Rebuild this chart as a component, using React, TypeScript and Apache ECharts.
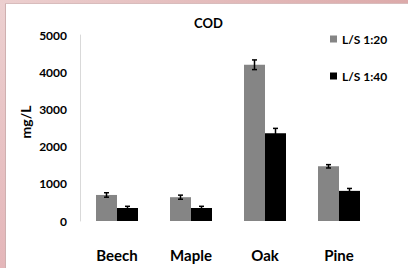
import React, { useEffect, useRef } from "react";
import * as echarts from "echarts";

const categories = ["Beech", "Maple", "Oak", "Pine"];
const seriesNames = ["L/S 1:20", "L/S 1:40"];
const values20 = [700, 640, 4200, 1470];
const err20 = [60, 55, 130, 45];
const values40 = [350, 350, 2360, 810];
const err40 = [45, 45, 130, 65];
const yTicks = { min: 0, max: 5000, interval: 1000 };

const FONT = "Lato";
const BAR_W = 21;

function errorSeries(vals: number[], errs: number[], offset: number) {
  return {
    type: "custom",
    z: 10,
    silent: true,
    data: vals.map((v, i) => [i, v - errs[i], v + errs[i]]),
    encode: { x: 0, y: [1, 2] },
    renderItem: (params: any, api: any) => {
      const cat = api.value(0);
      const lo = api.coord([cat, api.value(1)]);
      const hi = api.coord([cat, api.value(2)]);
      const x = lo[0] + offset;
      const style = { stroke: "#000", lineWidth: 1.5 };
      return {
        type: "group",
        children: [
          { type: "line", shape: { x1: x, y1: lo[1], x2: x, y2: hi[1] }, style },
          { type: "line", shape: { x1: x - 2.5, y1: lo[1], x2: x + 2.5, y2: lo[1] }, style },
          { type: "line", shape: { x1: x - 2.5, y1: hi[1], x2: x + 2.5, y2: hi[1] }, style },
        ],
      };
    },
  };
}

export default function App() {
  const ref = useRef<HTMLDivElement>(null);
  useEffect(() => {
    const chart = echarts.init(ref.current!, null, { renderer: "svg" });
    chart.setOption({
      animation: false,
      backgroundColor: "#fff",
      grid: { left: 80, right: 32, top: 35, bottom: 47 },
      legend: {
        orient: "vertical",
        left: 325,
        top: 28,
        itemGap: 25,
        itemWidth: 7,
        itemHeight: 7,
        icon: "rect",
        data: seriesNames,
        textStyle: { fontFamily: FONT, fontWeight: "bold", fontSize: 12, color: "#000" },
      },
      xAxis: {
        type: "category",
        data: categories,
        axisLine: { show: false },
        axisTick: { show: false },
        axisLabel: { fontFamily: FONT, fontWeight: "bold", fontSize: 15, color: "#000", margin: 26 },
      },
      yAxis: {
        type: "value",
        min: yTicks.min,
        max: yTicks.max,
        interval: yTicks.interval,
        axisLine: { show: true, lineStyle: { color: "#d9d9d9", width: 1 } },
        axisTick: { show: false },
        splitLine: { show: false },
        axisLabel: {
          fontFamily: FONT,
          fontWeight: "bold",
          fontSize: 12,
          color: "#000",
          margin: 13,
          formatter: (v: number) => String(v),
        },
      },
      series: [
        {
          name: seriesNames[0],
          type: "bar",
          data: values20,
          barWidth: BAR_W,
          barGap: "0%",
          itemStyle: { color: "#858585" },
        },
        {
          name: seriesNames[1],
          type: "bar",
          data: values40,
          barWidth: BAR_W,
          barGap: "0%",
          itemStyle: { color: "#000000" },
        },
        errorSeries(values20, err20, -BAR_W / 2),
        errorSeries(values40, err40, BAR_W / 2),
      ],
      graphic: [
        {
          type: "text",
          left: 194,
          top: 16,
          style: { text: "COD", font: `bold 13px ${FONT}`, fill: "#000" },
        },
        {
          type: "text",
          x: 25,
          y: 122,
          rotation: Math.PI / 2,
          style: {
            text: "mg/L",
            font: `bold 14px ${FONT}`,
            fill: "#000",
            align: "center",
            verticalAlign: "middle",
          },
        },
        {
          type: "rect",
          shape: { x: 0, y: 0, width: 5, height: 268 },
          style: {
            fill: new echarts.graphic.LinearGradient(0, 0, 0, 1, [
              { offset: 0, color: "#ecd0d0" },
              { offset: 1, color: "#e4b6b9" },
            ]),
          },
          z: 100,
        },
        {
          type: "rect",
          shape: { x: 0, y: 0, width: 408, height: 3 },
          style: {
            fill: new echarts.graphic.LinearGradient(0, 0, 1, 0, [
              { offset: 0, color: "#eccfcf" },
              { offset: 1, color: "#dcaaaa" },
            ]),
          },
          z: 100,
        },
        {
          type: "line",
          shape: { x1: 5.5, y1: 3, x2: 5.5, y2: 268 },
          style: { stroke: "#cfb0b0", lineWidth: 1 },
          z: 100,
        },
        {
          type: "line",
          shape: { x1: 5, y1: 3.5, x2: 408, y2: 3.5 },
          style: { stroke: "#d8bcbc", lineWidth: 1 },
          z: 100,
        },
      ],
    });
    return () => chart.dispose();
  }, []);
  return (
    <div
      ref={ref}
      style={{ position: "absolute", left: 0, top: 0, width: 408, height: 268 }}
    />
  );
}
